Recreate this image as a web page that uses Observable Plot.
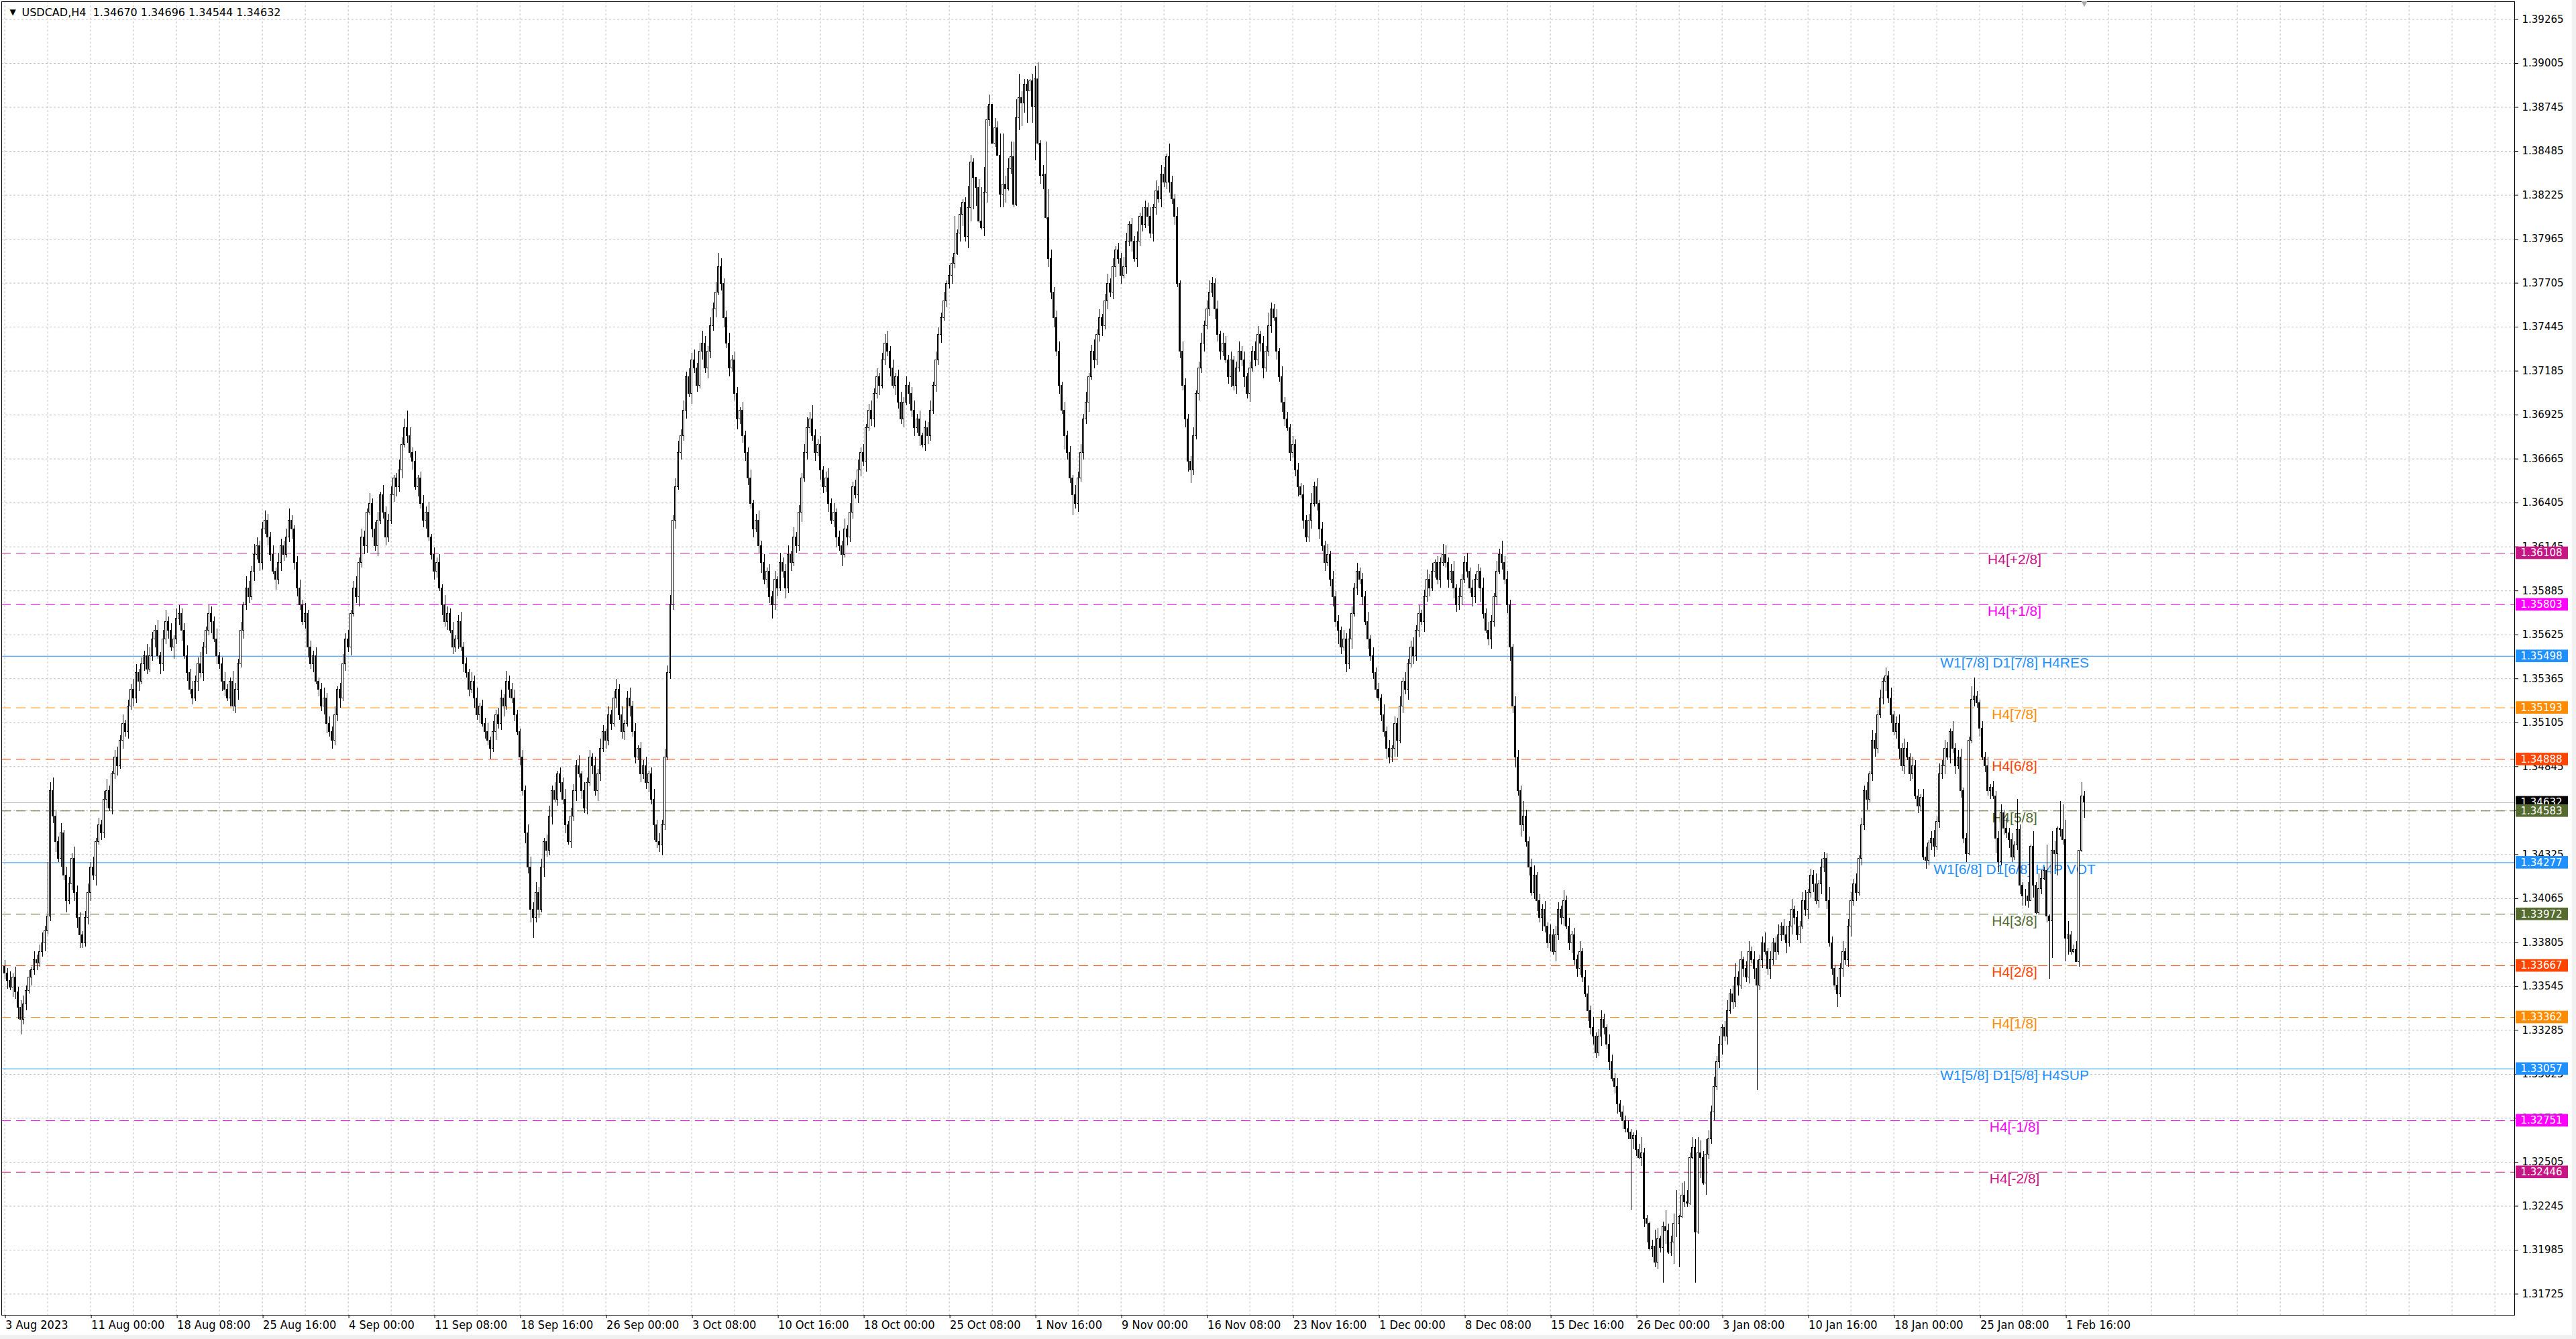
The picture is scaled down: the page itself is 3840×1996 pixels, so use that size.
<!DOCTYPE html>
<html><head><meta charset="utf-8">
<script src="https://cdn.jsdelivr.net/npm/d3@7"></script>
<script src="https://cdn.jsdelivr.net/npm/@observablehq/plot@0.6"></script>
<style>
html,body{margin:0;padding:0;background:#f0f0f0;}
#chart svg{display:block;background:#fff;}
#chart g[aria-label="x-axis tick label"]{font-stretch:condensed;}
</style></head><body><div id="chart"></div>
<script>
// ---- DATA ----
// close of each H4 bar, in units of 0.00001 above 1.30000 (e.g. 4632 = 1.34632)
const firstOpenRaw = 3660;
const closeRaw = [
// 3 Aug -
3620,3580,3540,3600,3510,3420,3350,3440,3520,3600,3640,3700,3680,3750,3800,3870,3960,
4700,4550,4400,4300,4450,4200,4050,4150,4300,4100,3950,3850,3800,
3950,4100,4250,4200,4400,4500,4450,4650,4700,4600,4800,4900,4850,5000,5100,5050,5200,5300,5250,5400,5350,5450,5500,5420,5500,
5600,5650,5500,5450,5600,5700,5650,5550,5600,5720,5750,5650,5500,5400,5300,5250,5350,5450,5400,5550,5650,
5750,5700,5600,5500,5450,5350,5300,5250,5350,5200,5300,5450,5650,5800,5900,5850,6000,6100,6150,6050,6250,
6300,6200,6100,6000,5950,6050,6150,6100,6200,6300,6250,6050,5900,5800,5700,5750,5550,5450,5500,5350,5300,5200,5250,5100,5050,
5000,5150,5300,5250,5450,5600,5550,5750,5900,5850,6050,6200,6150,6350,6400,6250,6150,6300,6450,6350,6200,6300,6450,6550,6500,6600,6750,6850,
// Sep
6800,6700,6650,6500,6550,6400,6300,6350,6200,6100,6000,6050,5900,5800,5700,5750,5650,5550,5600,5700,5550,
5450,5400,5300,5350,5250,5150,5200,5100,5050,5000,4950,5050,5150,5100,5250,5200,5350,5300,5250,5150,5050,4900,4700,4450,4250,4000,
3950,4100,4000,4250,4400,4350,4550,4700,4650,4800,4750,4650,4500,4400,4550,4700,4850,4800,4700,4600,4750,
4900,4850,4700,4800,4950,5050,5000,5150,5100,5250,5300,5150,5050,5100,5250,5200,5050,4900,4950,4800,4850,4750,4800,4650,4500,4400,4380,
// Oct
4500,4900,5400,5800,6300,6500,6700,6800,6950,7150,7050,7250,7200,7100,7300,7350,7200,7300,7450,7550,7650,7800,7700,7500,7350,7200,7250,7050,6900,6950,6800,6700,
6550,6400,6250,6300,6150,6050,5950,6000,5850,5800,5950,5900,6050,6000,5900,6100,6050,6200,6150,6350,6550,6700,6850,6900,
6800,6700,6750,6600,6500,6550,6400,6300,6350,6200,6150,6100,6250,6200,6350,6500,6450,6600,6700,6650,6850,6950,6900,7050,7150,7100,7250,7350,
7300,7200,7100,7150,7000,6900,7000,7100,7050,6950,6850,6900,6800,6750,6850,6800,6950,7100,7250,7400,7500,7600,7700,7750,7820,
7880,8000,8110,8180,7980,8150,8420,8330,8270,8070,8030,8240,8670,8760,8530,8620,8460,8230,8290,8260,8380,8450,8170,8680,8800,8770,8880,8840,8900,8750,8910,8530,8340,8350,8090,7850,
// Nov
7650,7500,7300,7100,6950,6800,6700,6550,6450,6400,6550,6700,6900,7000,7150,7300,7250,7400,7500,7450,
7600,7700,7650,7800,7900,7850,7750,7800,7950,8050,7950,7850,7950,8100,8050,8150,8100,8000,8150,8250,
8200,8350,8300,8450,8300,8200,8100,7700,7300,7100,6900,6650,
6600,6800,7050,7200,7350,7450,7550,7650,7700,7550,7400,7300,7350,7250,7150,7250,7100,7200,7300,
7250,7150,7050,7200,7300,7250,7400,7350,7200,7300,7450,7550,7500,7300,7150,7000,6900,6850,6700,6750,6600,6500,6450,6300,6200,
6300,6400,6500,6400,6250,6150,6050,6100,5950,5850,5700,5650,5550,5600,5450,5600,5750,5900,6000,5950,
5850,5700,5600,5500,5400,5300,5250,5150,5050,4950,4900,4950,5100,5000,5200,5350,5300,5450,5550,5500,
5650,5750,5700,5850,5950,5900,6000,6050,5950,6050,6100,
// Dec
6050,5950,6000,5900,5800,5850,5950,6050,6000,5900,5850,5950,6000,5900,5750,5650,5600,5700,5850,6000,
6100,6050,5950,5800,5550,5200,4900,4700,4500,4550,
4400,4250,4100,4200,4050,3950,4000,3900,3800,3850,3750,3850,4000,3950,4050,3900,3800,3850,3700,3650,
3750,3600,3500,3400,3300,3250,3150,3250,3350,3300,3200,3100,3000,2950,2850,2800,2750,2700,2680,
2640,2660,2580,2530,2560,2170,2140,1990,2005,1910,
2050,2000,2120,2100,1970,2030,2140,2140,2180,2310,2270,2260,2530,2590,2090,2560,2530,2380,2550,2640,
// Jan
2800,2950,3100,3200,3300,3250,3400,3500,3450,3600,3550,3700,3650,3600,3750,3700,3650,
3550,3700,3800,3750,3650,3700,3800,3750,3850,3900,3850,3800,3900,4000,3950,3850,3900,4050,4000,4100,
4200,4150,4050,4150,4250,4300,4050,3800,3650,3550,3500,3650,3750,3700,3900,4050,4150,4100,4300,4500,
4700,4650,4800,5000,4950,5150,5250,5350,
5380,5250,5150,5050,5100,4950,4850,4950,4900,4800,4850,4670,4610,4660,4310,4290,4390,4420,4370,4520,4800,
4850,4950,4900,5050,4950,4850,4900,4700,4420,4330,5000,5240,5260,5220,5070,4900,4850,4700,4720,4670,
4420,4280,4570,4480,4450,4410,4310,4380,
4470,4140,4080,4080,4050,4370,4140,3980,4120,4180,4230,3960,3930,4350,4330,4480,4470,4410,3830,3850,3750,3760,3690,4350,4670,4632
];
// upper wick above the body, in pips
const upWick = [
4,3,5,2,6,3,4,5,3,4,2,5,3,4,6,3,32,
5,8,4,3,6,2,5,4,3,7,4,3,2,4,5,3,6,2,4,3,5,7,3,2,4,6,3,5,2,4,3,6,5,2,4,3,7,5,
4,3,6,2,5,7,3,4,2,6,5,3,4,6,2,5,3,4,7,3,2,5,4,3,6,2,4,5,3,2,6,4,3,5,2,7,4,3,6,5,3,4,
6,4,3,5,2,6,4,3,5,7,3,2,4,5,3,6,2,4,3,5,2,4,6,3,4,
3,5,2,4,6,3,5,2,4,7,3,5,4,2,6,3,4,5,2,6,3,4,5,2,3,6,4,5,
10,5,3,6,2,4,5,3,6,2,4,3,5,2,6,4,3,5,2,4,6,3,4,2,5,3,6,2,4,3,5,2,6,3,4,5,2,6,3,4,5,3,2,4,3,5,6,
4,6,3,5,2,4,6,3,5,2,4,3,6,2,5,4,3,6,2,5,3,4,2,5,3,6,4,2,5,3,4,6,3,5,2,4,6,3,5,2,4,3,5,2,4,6,3,5,
3,5,4,6,3,5,7,4,6,3,5,4,6,3,5,7,4,3,5,4,6,8,5,3,4,6,3,5,4,2,5,3,
3,5,2,4,6,3,5,2,4,3,5,2,6,3,4,5,2,6,3,4,3,5,6,4,
8,4,3,5,2,4,6,3,5,2,4,3,6,2,5,3,4,6,3,5,2,4,6,3,5,2,4,5,
7,3,5,2,4,6,3,5,2,4,6,3,5,2,4,3,6,2,5,4,3,5,2,6,4,
22,2,4,2,3,13,4,2,0,5,20,15,8,6,0,6,4,13,30,5,6,9,9,11,14,4,3,3,1,4,8,10,2,5,19,17,
5,3,4,6,2,5,3,4,2,6,4,5,3,6,2,4,7,3,5,2,4,6,3,5,2,4,3,6,5,2,4,3,6,2,5,4,3,5,2,6,3,5,4,2,8,4,3,5,2,6,4,3,
3,5,2,4,6,3,5,7,4,3,5,2,6,4,3,5,2,4,6,3,5,2,4,3,6,5,2,4,3,8,4,3,5,2,6,3,4,2,5,3,4,2,6,3,
4,6,3,5,2,4,3,6,2,5,3,4,2,5,3,6,4,3,5,2,4,3,6,2,5,3,4,2,6,3,5,2,4,3,6,2,5,3,4,6,3,5,2,4,6,3,5,2,4,3,6,
5,3,4,6,2,5,3,4,6,2,5,3,4,2,6,3,5,4,2,6,3,8,4,5,3,2,6,4,3,9,
4,3,5,6,2,4,3,5,2,6,3,5,4,2,6,3,5,2,4,3,6,2,4,5,3,6,2,4,5,3,2,6,4,3,5,2,4,3,5,
2,2,3,3,9,3,2,1,4,10,
6,2,3,10,4,4,6,20,1,7,8,7,3,6,5,9,7,4,9,5,
4,6,3,5,2,4,6,3,5,8,3,5,2,4,6,3,5,
5,3,4,6,2,5,3,4,6,2,4,5,3,6,2,4,3,5,6,2,4,3,6,2,5,4,3,8,4,2,5,3,6,2,4,5,3,6,2,4,3,5,2,6,4,3,5,2,
5,3,6,2,4,5,3,6,4,2,5,3,4,2,5,6,2,4,5,3,6,3,5,4,2,6,3,4,5,2,3,2,8,11,3,2,4,3,5,2,4,3,4,5,2,6,3,4,2,
18,3,2,4,8,1,9,2,9,5,2,15,1,11,5,1,16,15,12,8,2,3,5,0,8,3
];
// lower wick below the body, in pips
const dnWick = [
3,5,2,6,4,7,9,3,4,2,5,3,4,2,3,5,2,
3,4,6,2,5,3,7,2,4,5,6,8,3,2,4,5,3,6,2,4,3,5,2,4,3,6,2,5,3,4,2,5,3,6,2,4,3,2,
3,5,2,6,4,3,5,2,7,3,4,6,2,5,3,4,2,6,3,5,4,3,7,2,5,3,6,4,2,5,3,4,6,2,5,3,4,2,6,3,5,4,
3,5,4,2,6,3,5,4,2,3,6,4,5,3,2,4,6,3,5,2,4,3,5,6,3,
5,3,4,6,2,4,3,5,2,4,6,3,5,4,2,5,3,6,2,4,5,3,2,4,6,3,5,2,
4,3,5,2,6,3,4,5,2,3,5,4,2,6,3,5,2,4,3,6,2,5,3,4,2,6,3,5,2,4,3,6,2,5,3,4,6,2,5,3,4,2,5,3,6,4,8,
12,3,5,2,6,4,3,5,2,4,6,3,5,2,4,3,6,2,5,3,4,2,5,3,6,4,2,5,3,4,2,6,3,4,5,2,6,3,4,2,5,3,4,6,3,9,4,4,
6,3,2,4,3,5,2,4,3,5,2,6,3,4,2,5,3,6,4,3,5,2,4,6,3,5,2,4,6,3,4,5,
4,3,5,2,4,6,3,5,4,8,3,5,2,4,6,3,5,2,4,3,6,2,4,3,
3,5,2,6,4,3,5,2,4,6,3,7,2,5,3,4,2,5,4,3,6,2,4,5,3,6,2,3,
3,5,2,6,4,3,5,2,6,4,5,3,6,2,4,5,3,2,4,3,5,2,4,3,5,
3,1,5,7,3,7,8,19,11,1,1,5,6,4,0,2,0,8,8,8,1,3,2,1,7,14,6,19,0,10,32,1,5,8,1,5,
4,6,3,5,2,8,4,3,12,3,5,2,4,3,6,2,5,3,4,6,2,5,3,4,6,3,5,2,4,3,6,2,5,3,4,2,6,3,5,4,2,5,3,4,6,3,5,2,4,3,5,6,
8,3,2,4,3,5,2,4,3,6,4,5,3,2,4,6,3,5,2,4,6,3,5,2,4,3,5,6,2,3,4,2,5,3,6,4,2,5,3,4,6,2,5,3,
3,5,2,4,6,3,5,2,4,6,3,8,4,2,5,3,6,2,4,3,5,2,6,3,4,5,2,4,3,6,4,3,5,10,2,4,3,6,2,5,3,4,2,6,3,5,2,4,3,5,2,
3,5,2,6,4,3,5,2,4,3,6,4,5,8,3,2,4,6,3,5,2,4,3,5,8,4,6,3,7,4,
3,5,2,4,6,3,8,4,3,5,2,6,3,4,5,2,4,6,3,5,4,3,2,6,4,5,3,2,6,4,3,5,2,4,6,3,5,2,4,
42,6,4,1,5,5,11,1,5,3,
4,3,21,8,1,2,13,8,26,1,3,2,1,1,30,1,12,1,7,3,
3,5,2,4,6,3,5,2,4,3,6,2,5,3,4,2,6,
62,3,5,2,4,6,3,5,2,4,3,6,2,5,4,3,5,2,4,6,3,5,2,4,6,3,5,2,4,3,8,2,5,3,4,6,3,5,2,4,3,6,2,4,5,3,2,4,
6,3,5,2,4,6,3,5,2,4,3,2,4,3,2,5,3,4,6,2,4,3,5,2,4,3,5,2,4,3,5,1,2,4,3,5,2,4,3,5,2,9,6,2,4,3,5,3,2,
3,5,6,6,4,0,7,1,1,3,1,4,34,22,9,13,4,3,14,10,2,1,0,3,1,9
];
// price axis ticks (right side)
const yTicks = [1.31725,1.31985,1.32245,1.32505,1.32765,1.33025,1.33285,1.33545,1.33805,1.34065,1.34325,1.34585,1.34845,1.35105,1.35365,1.35625,1.35885,1.36145,1.36405,1.36665,1.36925,1.37185,1.37445,1.37705,1.37965,1.38225,1.38485,1.38745,1.39005,1.39265];
// time axis labels, one every 32 bars
const xLabels = ["3 Aug 2023","11 Aug 00:00","18 Aug 08:00","25 Aug 16:00","4 Sep 00:00","11 Sep 08:00","18 Sep 16:00","26 Sep 00:00","3 Oct 08:00","10 Oct 16:00","18 Oct 00:00","25 Oct 08:00","1 Nov 16:00","9 Nov 00:00","16 Nov 08:00","23 Nov 16:00","1 Dec 00:00","8 Dec 08:00","15 Dec 16:00","26 Dec 00:00","3 Jan 08:00","10 Jan 16:00","18 Jan 00:00","25 Jan 08:00","1 Feb 16:00"];
// Murrey-math style levels
const levelValues = [1.36108,1.35803,1.35498,1.35193,1.34888,1.34583,1.34277,1.33972,1.33667,1.33362,1.33057,1.32751,1.32446];
const levelNames = ["H4[+2/8]","H4[+1/8]","W1[7/8] D1[7/8] H4RES","H4[7/8]","H4[6/8]","H4[5/8]","W1[6/8] D1[6/8] H4PIVOT","H4[3/8]","H4[2/8]","H4[1/8]","W1[5/8] D1[5/8] H4SUP","H4[-1/8]","H4[-2/8]"];
const levelColors = ["#C71585","#FF00FF","#1E90FF","#FF8C00","#FF4500","#556B2F","#1E90FF","#556B2F","#FF4500","#FF8C00","#1E90FF","#FF00FF","#C71585"];
const levelSolid = [false,false,true,false,false,false,true,false,false,false,true,false,false];
const titleText = "USDCAD,H4\u00a0 1.34670 1.34696 1.34544 1.34632";

// ---- BUILD ----
const BASE = 1.3, UNIT = 1e-5, PIP = 1e-4;
const bars = closeRaw.map((c, i) => {
  const open = BASE + (i === 0 ? firstOpenRaw : closeRaw[i - 1]) * UNIT;
  const close = BASE + c * UNIT;
  return {
    i, open, close,
    high: Math.max(open, close) + (upWick[i] ?? 0) * PIP,
    low: Math.min(open, close) - (dnWick[i] ?? 0) * PIP
  };
});
const last = bars[bars.length - 1];
const levels = levelValues.map((v, k) => ({v, name: levelNames[k], color: levelColors[k], solid: levelSolid[k]}));
const current = [{v: +last.close.toFixed(5), color: "#000000"}];
const xMin = -1.15, xMax = 935.35;
const labelBar = bars.length - 27;
const boxHalf = 0.00037;
const gridXIdx = d3.range(0, 930, 16);
const xTickIdx = xLabels.map((_, k) => k * 32);
const F = "DejaVu Sans, Verdana, sans-serif";

const boxMarks = (data) => [
  Plot.rect(data, {x1: () => xMax + 0.5, x2: () => xMax + 20, y1: d => d.v - boxHalf, y2: d => d.v + boxHalf, fill: "color"}),
  Plot.text(data, {y: "v", frameAnchor: "right", dx: 9, textAnchor: "start", text: d => d.v.toFixed(5), fill: "white", fontSize: 15, fontFamily: F})
];

const chart = Plot.plot({
  width: 3834, height: 1990,
  marginLeft: 2, marginRight: 86, marginTop: 2, marginBottom: 30,
  x: {domain: [xMin, xMax]},
  y: {domain: [1.31600, 1.39370]},
  style: {fontFamily: F, background: "#fff"},
  marks: [
    Plot.gridY(yTicks, {stroke: "#c0c0c0", strokeOpacity: 1, strokeDasharray: "3,3"}),
    Plot.gridX(gridXIdx, {stroke: "#c0c0c0", strokeOpacity: 1, strokeDasharray: "3,3"}),
    Plot.ruleY(levels.filter(d => !d.solid), {y: "v", stroke: "color", strokeDasharray: "14,8"}),
    Plot.ruleY(levels.filter(d => d.solid), {y: "v", stroke: "color"}),
    Plot.ruleY(current, {y: "v", stroke: "#c0c0c0"}),
    Plot.text(levels, {x: () => labelBar, y: "v", text: "name", fill: "color", fontSize: 21, fontFamily: "Liberation Sans, Arial, sans-serif", dy: 10, lineAnchor: "middle"}),
    Plot.ruleX(bars, {x: "i", y1: "low", y2: "high", stroke: "black", strokeWidth: 1, shapeRendering: "crispEdges"}),
    Plot.rect(bars, {x1: d => d.i - 0.3, x2: d => d.i + 0.3, y1: "open", y2: "close", fill: d => d.close >= d.open ? "white" : "black", stroke: "black", strokeWidth: 1, shapeRendering: "crispEdges"}),
    Plot.frame({stroke: "black"}),
    Plot.axisY(yTicks, {anchor: "right", label: null, tickSize: 5, tickPadding: 6, tickFormat: d => d.toFixed(5), fontSize: 15, fontFamily: F, fill: "black"}),
    Plot.axisX(xTickIdx, {anchor: "bottom", label: null, tickSize: 5, tickPadding: 3, tickFormat: d => xLabels[d / 32], textAnchor: "start", dx: 1, fontSize: 18, fontFamily: "DejaVu Sans Condensed, DejaVu Sans, sans-serif", fill: "black"}),
    ...boxMarks(current),
    ...boxMarks(levels),
    Plot.text([titleText], {frameAnchor: "top-left", dx: 30, dy: 16, textAnchor: "start", lineAnchor: "middle", fontSize: 16, fontFamily: F, fill: "black"}),
    Plot.text(["\u25BC"], {frameAnchor: "top-left", dx: 12, dy: 16, lineAnchor: "middle", fontSize: 12, fill: "black"}),
    Plot.text([last], {x: "i", frameAnchor: "top", text: () => "\u25BC", fill: "#a9a9a9", fontSize: 11, dy: -1, lineAnchor: "top"})
  ]
});
document.getElementById("chart").appendChild(chart);
</script></body></html>
